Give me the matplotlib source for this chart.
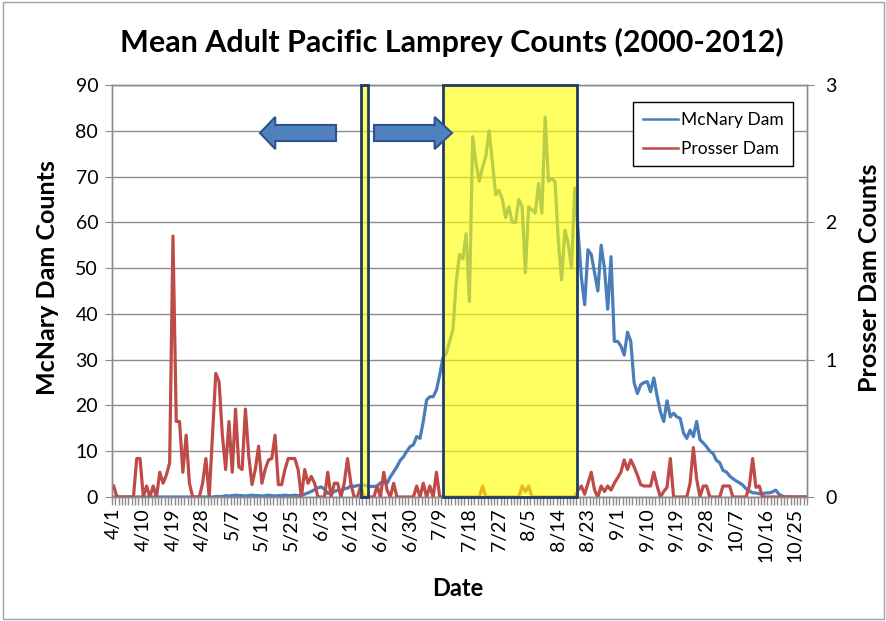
import datetime as dt

import matplotlib
matplotlib.use('Agg')
import matplotlib.pyplot as plt
import matplotlib.transforms as mtransforms
from matplotlib.patches import Rectangle, FancyArrow
from matplotlib.lines import Line2D

plt.rcParams['font.family'] = ['Lato', 'DejaVu Sans']

######################
## data: daily means, 4/1 - 10/28
######################

first_day = dt.date(2001, 4, 1)
n_days = 211
dates = [first_day + dt.timedelta(days=k) for k in range(n_days)]
date_labels = ['{}/{}'.format(d.month, d.day) for d in dates]
label_step = 9

mcnary_counts = (
    [0.0] * 31 + [0.1] * 3
    + [0.3, 0.2, 0.3, 0.4, 0.3, 0.3, 0.2, 0.3, 0.4, 0.3, 0.3, 0.2,
       0.3, 0.4, 0.3, 0.2, 0.3, 0.3, 0.4, 0.3, 0.3, 0.4, 0.3]
    + [0.4, 0.6, 0.9, 1.2, 1.6, 2.0, 2.2, 1.7, 0.8, 0.8, 1.2, 1.5, 1.4]
    + [1.8, 1.9, 2.5, 2.3, 2.5, 2.6, 2.6, 2.4, 2.3, 2.3, 2.4, 3.1, 3.3, 3.0,
       4.4, 5.5, 6.6, 8.0, 8.8, 10.0, 11.0, 11.4, 13.2, 12.8, 16.5, 21.2,
       21.9, 21.9, 23.4, 26.7]
    + [30.5, 31.4, 34, 36.5, 47, 53, 52, 57.5, 42.7, 78.7, 73, 69, 72, 74.5,
       80, 73, 66, 67, 65, 61, 63.4, 60, 60, 65, 63.4, 49, 63.4, 62.7, 62,
       68.5, 62, 83, 69, 69.6, 68.9, 56, 47.4, 58.3, 55.4, 50, 67.5]
    + [58, 48, 42, 54, 53, 49, 45, 55, 50, 41, 52.5, 34, 34, 33, 31, 36, 34,
       25, 22.6, 24.5, 25, 25.2, 23, 26, 22, 18.6, 16.5, 21, 17.5, 18.3,
       17.5, 17.2, 14, 12.8, 14.6, 13.2, 16.5, 12.5]
    + [11.8, 11, 10, 9.5, 8, 7.5, 5.8, 5.5, 4.6, 4.0, 3.5, 3.1, 2.6, 1.8,
       1.3, 0.9, 0.9, 0.7, 0.7, 0.9, 0.9, 1.1, 1.5, 0.6, 0.2,
       0, 0, 0, 0, 0, 0, 0]
)

prosser_counts = (
    [0.08, 0, 0, 0, 0, 0, 0, 0.28, 0.28, 0,
     0.08, 0, 0.08, 0, 0.18, 0.1, 0.16, 0.25, 1.9, 0.55,
     0.55, 0.18, 0.45, 0.1, 0, 0, 0, 0.1, 0.28, 0,
     0.45, 0.9, 0.84, 0.45]
    + [0.2, 0.55, 0.18, 0.64, 0.22, 0.2, 0.64, 0.3, 0.09, 0.2,
       0.37, 0.1, 0.2, 0.27, 0.28, 0.45, 0.09, 0.09, 0.2, 0.28,
       0.28, 0.28, 0.2, 0.0, 0.2, 0.1, 0.15, 0.1, 0.0, 0.0,
       0.0, 0.18, 0.0, 0.1, 0.1, 0.0, 0.1, 0.28, 0.1]
    + [0, 0, 0.08, 0, 0, 0, 0, 0.08, 0, 0.18,
       0.05, 0, 0.1, 0, 0, 0, 0, 0, 0, 0.08,
       0, 0.1, 0, 0.08, 0, 0.18, 0]
    + [0] * 12 + [0.08] + [0] * 11 + [0.08, 0.04, 0.08] + [0] * 14
    + [0.05, 0.08, 0.02, 0.1, 0.18, 0.05, 0.0, 0.08, 0.04, 0.08,
       0.05, 0.1, 0.14, 0.18, 0.27, 0.2, 0.27, 0.22, 0.16, 0.09,
       0.08, 0.08, 0.08, 0.18, 0.08, 0.0, 0.04, 0.07, 0.28, 0.0,
       0.0, 0.0, 0.0, 0.0, 0.1, 0.36, 0.13, 0.0, 0.08, 0.08,
       0.0, 0.0, 0.0, 0.0, 0.08, 0.08, 0.08, 0.0, 0.0, 0.0,
       0.0, 0.0, 0.08, 0.28, 0.07, 0.08, 0.0]
    + [0] * 13
)

# highlighted periods, in day-index units
window_narrow = (75.0, 77.3)
window_wide = (99.9, 140.6)

series_names = ['McNary Dam', 'Prosser Dam']

######################
## setup plot
######################

blue = '#4a7ebb'
red = '#be4b48'
grid_gray = '#8c8c8c'

fig = plt.figure(figsize=(8.87, 6.21), dpi=100)
ax = fig.add_axes([0.1263, 0.1997, 0.7835, 0.6634])
ax2 = ax.twinx()

x = list(range(n_days))
ax.plot(x, mcnary_counts, color=blue, lw=2.3, solid_joinstyle='round')
ax2.plot(x, prosser_counts, color=red, lw=2.3, solid_joinstyle='round')

ax.set_xlim(-0.5, n_days - 0.5)
ax.set_ylim(0, 90)
ax.set_yticks(range(0, 91, 10))
ax2.set_ylim(0, 3)
ax2.set_yticks([0, 1, 2, 3])

## gridlines and spines
ax.yaxis.grid(True, color=grid_gray, lw=1)
ax.set_axisbelow(True)
for a in (ax, ax2):
    for sp in a.spines.values():
        sp.set_color(grid_gray)
        sp.set_linewidth(1)

## x axis: a tick mark between every day, a label every 9 days
ax.set_xticks(x[::label_step])
ax.set_xticklabels(date_labels[::label_step], rotation=90)
ax.set_xticks([k - 0.5 for k in range(n_days + 1)], minor=True)
ax.tick_params(axis='x', which='major', length=0, labelsize=14, pad=8)
ax.tick_params(axis='x', which='minor', length=6, width=1, color=grid_gray,
               direction='out')

ax.tick_params(axis='y', length=5, color=grid_gray, labelsize=14, pad=5)
ax2.tick_params(axis='y', length=5, color=grid_gray, labelsize=14, pad=8)

## peak passage windows (translucent yellow over the lines)
box_tr = mtransforms.blended_transform_factory(ax2.transData, ax2.transAxes)
for lo, hi in (window_narrow, window_wide):
    ax2.add_patch(Rectangle((lo, 0), hi - lo, 1, transform=box_tr,
                            facecolor=(1, 1, 0, 0.62), edgecolor='#1f3c64',
                            lw=2, zorder=5, clip_on=False))

## direction arrows
arrow_style = dict(transform=ax2.transAxes, facecolor='#4f81bd',
                   edgecolor='#2f528f', lw=1.5, zorder=6,
                   length_includes_head=True, clip_on=False)
ax2.add_patch(FancyArrow(0.3223, 0.8835, -0.1094, 0, width=0.039,
                         head_width=0.078, head_length=0.022, **arrow_style))
ax2.add_patch(FancyArrow(0.377, 0.8835, 0.1122, 0, width=0.039,
                         head_width=0.078, head_length=0.025, **arrow_style))

## legend
handles = [Line2D([], [], color=blue, lw=1.8), Line2D([], [], color=red, lw=1.8)]
leg = ax2.legend(handles, series_names, loc='upper right',
                 bbox_to_anchor=(0.988, 0.971), fontsize=12.5, frameon=True,
                 fancybox=False, framealpha=1, edgecolor='black',
                 handlelength=2.0, handletextpad=0.2, labelspacing=0.75,
                 borderpad=0.55, borderaxespad=0.3)
leg.get_frame().set_linewidth(1)
leg.set_zorder(10)

## titles
fig.text(0.5096, 0.9324, 'Mean Adult Pacific Lamprey Counts (2000-2012)',
         ha='center', va='center', fontsize=22, fontweight='bold')
fig.text(48 / 887, 0.5523, 'McNary Dam Counts', rotation=90,
         ha='center', va='center', fontsize=18, fontweight='bold')
fig.text(870 / 887, 0.5523, 'Prosser Dam Counts', rotation=90,
         ha='center', va='center', fontsize=18, fontweight='bold')
fig.text(0.516, 0.0531, 'Date', ha='center', va='center',
         fontsize=17, fontweight='bold')

## chart border
fig.patches.append(Rectangle((0.003, 0.004), 0.994, 0.992,
                             transform=fig.transFigure, fill=False,
                             edgecolor='#a0a0a0', lw=1))

fig.savefig('out.png', dpi=100)
